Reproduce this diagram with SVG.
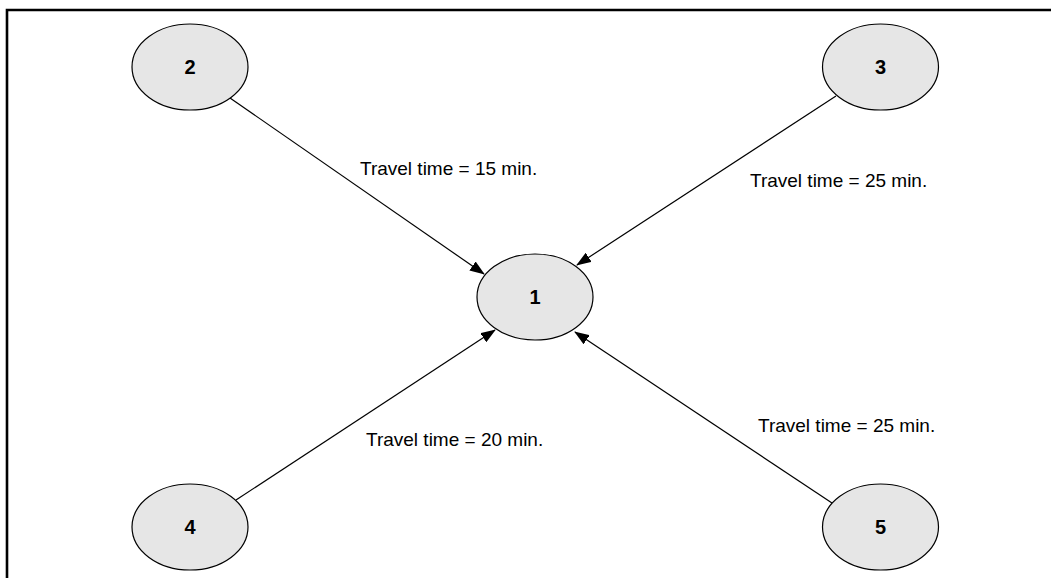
<svg xmlns="http://www.w3.org/2000/svg" width="1051" height="578" viewBox="0 0 1051 578">
<style>
.node ellipse{fill:#e6e6e6;stroke:#000;stroke-width:1.2}
.node text{font-family:"Liberation Sans",Arial,sans-serif;font-size:20px;font-weight:bold;text-anchor:middle;fill:#000}
.edge{stroke:#000;stroke-width:1.2;fill:none;marker-end:url(#arr)}
.lbl{font-family:"Liberation Sans",Arial,sans-serif;font-size:19px;fill:#000}
.frame{stroke:#000;stroke-width:2.6;fill:none}
</style>
<defs>
<marker id="arr" markerUnits="userSpaceOnUse" markerWidth="15" markerHeight="11" refX="14" refY="5.5" orient="auto">
<path d="M0,0 L15,5.5 L0,11 z" fill="#000"/>
</marker>
</defs>
<rect width="1051" height="578" fill="#fff"/>
<path class="frame" d="M7,578 V10 H1051"/>
<g id="connectors">
<line class="edge" x1="230" y1="98" x2="484" y2="274"/>
<line class="edge" x1="836" y1="96" x2="577" y2="265"/>
<line class="edge" x1="236" y1="500" x2="495" y2="330"/>
<line class="edge" x1="832" y1="503" x2="575" y2="332"/>
<text class="lbl" x="360" y="175">Travel time = 15 min.</text>
<text class="lbl" x="750" y="187">Travel time = 25 min.</text>
<text class="lbl" x="366" y="446">Travel time = 20 min.</text>
<text class="lbl" x="758" y="432">Travel time = 25 min.</text>
</g>
<g id="node1" class="node"><ellipse cx="535" cy="297" rx="58" ry="43"/><text x="535" y="304">1</text></g>
<g id="node2" class="node"><ellipse cx="190" cy="67" rx="58" ry="43"/><text x="190" y="74">2</text></g>
<g id="node3" class="node"><ellipse cx="880.5" cy="67" rx="58" ry="43"/><text x="880.5" y="74">3</text></g>
<g id="node4" class="node"><ellipse cx="190" cy="527" rx="58" ry="43"/><text x="190" y="534">4</text></g>
<g id="node5" class="node"><ellipse cx="880.5" cy="527" rx="58" ry="43"/><text x="880.5" y="534">5</text></g>
</svg>
